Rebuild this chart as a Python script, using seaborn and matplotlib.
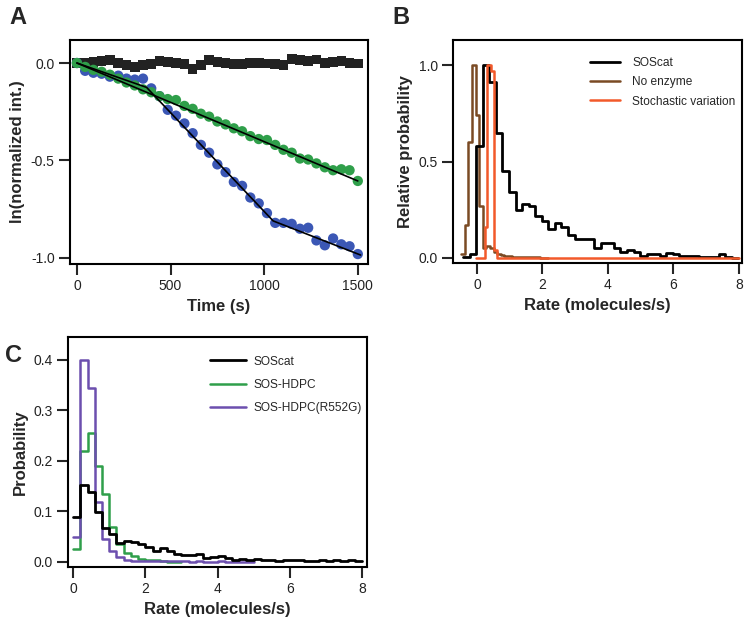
import numpy as np
import pandas as pd
import matplotlib
matplotlib.use("Agg")
import matplotlib.pyplot as plt
import seaborn as sns
from matplotlib.lines import Line2D

# --- Panel A: single-particle traces ---
times_s = [0, 44, 88, 132, 176, 221, 265, 309, 353, 397, 441, 485, 529, 574, 618,
           662, 706, 750, 794, 838, 882, 926, 971, 1015, 1059, 1103, 1147, 1191,
           1235, 1279, 1324, 1368, 1412, 1456, 1500]
ctrl_trace = [0.0, 0.0, 0.005, 0.01, 0.015, 0.0, -0.01, -0.02, -0.01, -0.005, 0.01,
              0.005, 0.0, -0.005, -0.03, -0.01, 0.015, 0.005, 0.0, -0.005, -0.005,
              0.0, 0.0, -0.003, -0.005, -0.01, 0.02, 0.015, 0.01, 0.018, 0.0, 0.005,
              0.01, 0.0, -0.002]
blue_trace = [0.0, -0.04, -0.05, -0.055, -0.07, -0.065, -0.08, -0.085, -0.08, -0.13,
              -0.17, -0.24, -0.27, -0.31, -0.36, -0.42, -0.46, -0.52, -0.56, -0.61,
              -0.63, -0.69, -0.72, -0.77, -0.82, -0.82, -0.825, -0.85, -0.845, -0.91,
              -0.935, -0.90, -0.93, -0.94, -0.98]
green_trace = [0.0, -0.02, -0.035, -0.045, -0.06, -0.08, -0.10, -0.115, -0.135, -0.15,
               -0.17, -0.185, -0.19, -0.22, -0.235, -0.26, -0.275, -0.30, -0.315,
               -0.335, -0.35, -0.375, -0.39, -0.395, -0.42, -0.445, -0.46, -0.49,
               -0.495, -0.515, -0.535, -0.55, -0.545, -0.55, -0.605]
fit_blue_t = [0, 372, 1048, 1515]
fit_blue_v = [0.0, -0.125, -0.81, -0.985]
fit_green_t = [0, 1500]
fit_green_v = [0.0, -0.605]

# --- Panel B: relative probability histograms ---
b_soscat_start, b_soscat_width = -0.42, 0.2
b_soscat = [0.005, 0.02, 0.58, 1.0, 0.91, 0.65, 0.45, 0.34, 0.25, 0.28, 0.27, 0.22,
            0.19, 0.15, 0.18, 0.16, 0.12, 0.10, 0.10, 0.10, 0.05, 0.08, 0.08, 0.05,
            0.03, 0.04, 0.03, 0.01, 0.02, 0.02, 0.01, 0.025, 0.02, 0.01, 0.01, 0.01,
            0.005, 0.005, 0.005, 0.02, 0.005, 0.0]
b_noenz_start, b_noenz_width = -0.48, 0.11
b_noenz = [0.02, 0.17, 0.60, 1.0, 0.74, 0.27, 0.05, 0.06, 0.05, 0.03, 0.02,
           0.015, 0.01, 0.008, 0.005, 0.005, 0.004, 0.004, 0.003, 0.003, 0.004,
           0.003, 0.002, 0.0]
b_stoch_edges = [-0.04, 0.24, 0.31, 0.42, 0.53, 0.60, 8.0]
b_stoch = [0.0, 0.16, 1.0, 0.97, 0.04, 0.0]

# --- Panel C: probability histograms ---
c_start, c_width = 0.0, 0.2
c_soscat = [0.09, 0.152, 0.138, 0.098, 0.068, 0.055, 0.038, 0.042, 0.040, 0.035,
            0.030, 0.022, 0.028, 0.022, 0.016, 0.013, 0.013, 0.015, 0.008, 0.010,
            0.012, 0.007, 0.004, 0.005, 0.004, 0.005, 0.003, 0.004, 0.002, 0.004,
            0.003, 0.003, 0.002, 0.001, 0.003, 0.002, 0.003, 0.002, 0.003, 0.001]
c_hdpc = [0.025, 0.22, 0.255, 0.19, 0.135, 0.07, 0.035, 0.018, 0.012, 0.006,
          0.004, 0.004, 0.002, 0.0, 0.0]
c_r552g = [0.05, 0.40, 0.345, 0.118, 0.045, 0.022, 0.010, 0.004, 0.002, 0.002,
           0.001, 0.001, 0.001, 0.001, 0.001, 0.001, 0.0, 0.001, 0.0, 0.0,
           0.001, 0.0, 0.0, 0.0, 0.0]

BLUE = "#3b57b5"
GREEN = "#2f9f4a"
BROWN = "#7a4a24"
ORANGE = "#f2592a"
PURPLE = "#6c4fae"


def uniform_edges(start, width, n):
    return [float(start + width * i) for i in range(n + 1)]


def step_hist(ax, edges, heights, color, lw, label):
    edges = [float(e) for e in edges]
    centers = [(a + b) / 2 for a, b in zip(edges[:-1], edges[1:])]
    df = pd.DataFrame({"rate": centers, "w": [float(h) for h in heights]})
    sns.histplot(data=df, x="rate", weights="w", bins=edges, element="step",
                 fill=False, color=color, linewidth=lw, ax=ax)
    return Line2D([0], [0], color=color, lw=lw, label=label)


def style_axes(ax):
    for s in ax.spines.values():
        s.set_visible(True)
        s.set_linewidth(1.5)
        s.set_color("black")
    ax.tick_params(axis="both", direction="out", length=8, width=1.5,
                   labelsize=10, labelcolor="#222222", pad=3,
                   top=False, right=False)
    ax.xaxis.label.set_fontweight("bold")
    ax.yaxis.label.set_fontweight("bold")
    ax.xaxis.label.set_fontsize(12)
    ax.yaxis.label.set_fontsize(12)


sns.set_theme(style="ticks")
plt.rcParams["font.family"] = ["Liberation Sans", "DejaVu Sans"]
plt.rcParams["axes.unicode_minus"] = False

fig = plt.figure(figsize=(7.5, 6.28), dpi=100)
axA = fig.add_axes([0.0933, 0.5796, 0.397, 0.3567])
axB = fig.add_axes([0.604, 0.5812, 0.3853, 0.355])
axC = fig.add_axes([0.0907, 0.0971, 0.3987, 0.366])

# Panel A
sns.scatterplot(x=times_s, y=ctrl_trace, marker="s", s=48, color="#222222",
                edgecolor="none", linewidth=0, ax=axA)
sns.scatterplot(x=times_s, y=blue_trace, marker="o", s=55, color=BLUE,
                edgecolor="none", linewidth=0, ax=axA)
sns.scatterplot(x=times_s, y=green_trace, marker="o", s=55, color=GREEN,
                edgecolor="none", linewidth=0, ax=axA)
sns.lineplot(x=fit_blue_t, y=fit_blue_v, color="black", linewidth=1.2, sort=False, ax=axA)
sns.lineplot(x=fit_green_t, y=fit_green_v, color="black", linewidth=1.2, sort=False, ax=axA)
axA.set_xlim(-37, 1553)
axA.set_ylim(-1.031, 0.118)
axA.set_xticks([0, 500, 1000, 1500])
axA.set_yticks([0.0, -0.5, -1.0])
axA.set_yticklabels(["0.0", "-0.5", "-1.0"])
axA.set_xlabel("Time (s)")
axA.set_ylabel("ln(normalized int.)")
style_axes(axA)

# Panel B
hB = [
    step_hist(axB, uniform_edges(b_noenz_start, b_noenz_width, len(b_noenz)), b_noenz,
              BROWN, 1.8, "No enzyme"),
    step_hist(axB, uniform_edges(b_soscat_start, b_soscat_width, len(b_soscat)), b_soscat,
              "black", 2.0, "SOScat"),
    step_hist(axB, b_stoch_edges, b_stoch, ORANGE, 1.8, "Stochastic variation"),
]
axB.set_xlim(-0.73, 8.09)
axB.set_ylim(-0.026, 1.13)
axB.set_xticks([0, 2, 4, 6, 8])
axB.set_yticks([0.0, 0.5, 1.0])
axB.set_yticklabels(["0.0", "0.5", "1.0"])
axB.set_xlabel("Rate (molecules/s)")
axB.set_ylabel("Relative probability")
axB.legend(handles=[hB[1], hB[0], hB[2]], loc="upper left", bbox_to_anchor=(0.475, 0.925),
           frameon=False, borderaxespad=0, borderpad=0, fontsize=8.6,
           handlelength=2.5, handletextpad=1.0, labelspacing=0.62)
style_axes(axB)

# Panel C
hC = [
    step_hist(axC, uniform_edges(c_start, c_width, len(c_hdpc)), c_hdpc,
              GREEN, 1.8, "SOS-HDPC"),
    step_hist(axC, uniform_edges(c_start, c_width, len(c_r552g)), c_r552g,
              PURPLE, 1.8, "SOS-HDPC(R552G)"),
    step_hist(axC, uniform_edges(c_start, c_width, len(c_soscat)), c_soscat,
              "black", 2.0, "SOScat"),
]
axC.set_xlim(-0.14, 8.14)
axC.set_ylim(-0.01, 0.445)
axC.set_xticks([0, 2, 4, 6, 8])
axC.set_yticks([0.0, 0.1, 0.2, 0.3, 0.4])
axC.set_yticklabels(["0.0", "0.1", "0.2", "0.3", "0.4"])
axC.set_xlabel("Rate (molecules/s)")
axC.set_ylabel("Probability")
axC.legend(handles=[hC[2], hC[0], hC[1]], loc="upper left", bbox_to_anchor=(0.475, 0.92),
           frameon=False, borderaxespad=0, borderpad=0, fontsize=8.6,
           handlelength=3.0, handletextpad=0.6, labelspacing=0.95)
style_axes(axC)

# Panel letters
letter_font = dict(fontsize=17, fontweight="bold", va="top", ha="left",
                   family=["Liberation Sans Narrow", "Liberation Sans"])
fig.text(0.013, 0.99, "A", **letter_font)
fig.text(0.523, 0.99, "B", **letter_font)
fig.text(0.006, 0.452, "C", **letter_font)

fig.savefig("out.png", dpi=100)
